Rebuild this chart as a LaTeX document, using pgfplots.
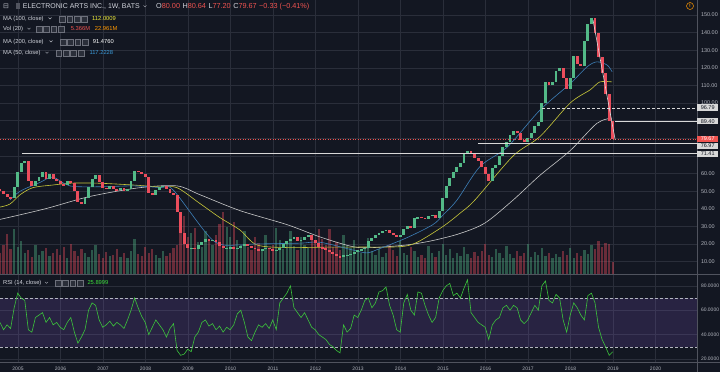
\documentclass[border=0pt]{standalone}
\usepackage{pgfplots}
\pgfplotsset{compat=1.18}
\usepackage{pgfplotstable}
\usepackage{fontspec}
\setmainfont{Liberation Sans}
\newfontfamily\djv{DejaVu Sans}
\definecolor{bgc}{HTML}{131722}
\definecolor{gridc}{HTML}{2A2E3A}
\definecolor{sepc}{HTML}{50535E}
\definecolor{tickc}{HTML}{B2B5BE}
\definecolor{hdrc}{HTML}{D1D4DC}
\definecolor{upc}{HTML}{53B987}
\definecolor{dnc}{HTML}{EB4D5C}
\definecolor{ma50c}{HTML}{3D7FB8}
\definecolor{ma100c}{HTML}{C9C83A}
\definecolor{ma200c}{HTML}{C8C8C8}
\definecolor{rsic}{HTML}{3CC43C}
\definecolor{bandc}{HTML}{7E57C2}
\definecolor{hlc}{HTML}{D8D8D8}
\definecolor{redc}{HTML}{EF5350}
\definecolor{orc}{HTML}{FF9800}
\definecolor{yelc}{HTML}{F0EC3A}
\definecolor{bluec}{HTML}{3A9AD9}
\definecolor{grnc}{HTML}{3CDC3C}
\definecolor{icof}{HTML}{2A2E39}
\definecolor{icob}{HTML}{6D707B}

% monthly candles: open, close, volume (millions), RSI(14)
\pgfplotstableread{
o c v r
51 50 22 50
50 48.6 30 44
48.6 46.7 41 48
46.7 46 26 45
46 52.5 46 62
52.5 61 28 74
61 66 34 70
66 67 22 68
67 56 25 44
56 53 18 42
53 55.5 30 54
55.5 58 20 56
58 61 24 58
61 57 27 50
57 60 19 54
60 57 22 48
57 55.5 26 50
55.5 54 20 46
54 53.5 28 44
53.5 55.5 17 50
55.5 54.5 31 54
54.5 50 24 42
50 44 19 33
44 42.5 26 38
42.5 46 22 44
46 52.5 18 60
52.5 57 25 66
57 59 30 64
59 55 21 52
55 52 17 46
52 51.5 23 48
51.5 53 19 51
53 51 20 47
51 50.5 26 50
50.5 52 18 48
52 50 22 45
50 51.5 16 52
51.5 56 24 60
56 61.5 36 70
61.5 61 21 62
61 60 19 55
60 58 28 50
58 49 22 40
49 48 26 46
48 50.5 20 52
50.5 52.5 17 48
52.5 53 24 44
53 51 19 38
51 49 22 45
49 48 27 49
48 38 30 27
38 26 45 23
26 20 60 24
20 17.5 38 28
17.5 18 42 26
18 17 47 38
17 19.5 33 42
19.5 21 28 50
21 23 44 52
23 22 36 47
22 22.5 30 49
22.5 21 40 44
21 19 52 47
19 17.5 64 42
17.5 17.8 48 46
17.8 18.2 38 44
18.2 17 54 48
17 18 35 57
18 19 30 60
19 20 44 50
20 19 28 38
19 18 25 35
18 17 38 42
17 16.5 32 48
16.5 17 24 46
17 18 40 49
18 17 27 45
17 16.5 30 52
16.5 16.8 47 44
16.8 18 35 66
18 20 26 70
20 21.5 33 74
21.5 23 44 80
23 24 29 62
24 22 25 58
22 22.5 38 54
22.5 24 30 58
24 25 27 52
25 22.5 40 46
22.5 20.5 33 44
20.5 18.5 46 40
18.5 17.5 36 38
17.5 16.5 30 36
16.5 15.5 46 32
15.5 14.5 28 30
14.5 13 33 27
13 12.5 25 25
12.5 13.5 40 48
13.5 14 30 42
14 14.3 27 45
14.3 15.5 35 56
15.5 16.5 24 54
16.5 17 22 60
17 18 28 68
18 22 37 70
22 23.5 24 62
23.5 25 20 66
25 26.5 26 75
26.5 27.5 18 76
27.5 28 22 79
28 26 30 64
26 25 25 56
25 24 19 44
24 25 34 42
25 28.5 22 66
28.5 30 20 73
30 29 28 60
29 34.5 24 56
34.5 35.5 18 75
35.5 35 20 74
35 34 16 64
34 36 29 56
36 36.5 22 50
36.5 34.5 18 54
34.5 39 24 70
39 46 31 76
46 53 20 80
53 57.5 26 82
57.5 61 17 72
61 63.5 22 74
63.5 66 19 70
66 71 28 78
71 73 21 85
73 71 16 58
71 69 23 54
69 67 19 50
67 64 24 48
64 60 31 46
60 56 20 36
56 63 18 48
63 65 26 52
65 70 22 54
70 75 17 62
75 78 29 64
78 82 21 60
82 84 16 64
84 83 24 62
83 79 19 52
79 78 22 49
78 80 31 52
80 83 18 58
83 87 23 64
87 89 20 60
89 100 27 80
100 112 19 84
112 110 22 68
110 112 17 66
112 118 21 73
118 120 18 70
120 114 24 52
114 108 20 42
108 114 27 56
114 127 16 66
127 122 22 62
122 121 19 56
121 135 25 52
135 145 21 72
145 148 30 74
148 140 26 66
140 126 34 46
126 117 28 36
117 105 32 30
105 90 31 23
90 79.67 12 25.9
}\ea

\newcommand{\icons}[2]{%
  \foreach \i in {0,1,2,3} {\draw[icob, fill=icof, line width=0.3bp] ({#1+7.4*\i},{#2-1.4}) rectangle ++(5.8,5.8);}}
\newcommand{\chev}[2]{\draw[tickc, line width=0.4bp] (#1,{#2+2.8}) -- ({#1+1.5},{#2+1.3}) -- ({#1+3},{#2+2.8});}

\begin{document}
\begin{tikzpicture}[x=1bp,y=1bp]
\fill[bgc] (0,0) rectangle (720,372);
\path[use as bounding box] (0,0) rectangle (720,372);

% ---------------- price pane ----------------
\begin{axis}[
  at={(0bp,98bp)}, anchor=south west, scale only axis,
  width=697bp, height=274bp,
  xmin=2004.576, xmax=2020.976, ymin=3, ymax=158.5,
  axis line style={draw=none}, major tick length=0pt,
  xtick={2005,2006,...,2020}, xticklabels={},
  ytick={10,20,30,40,50,60,100,110,120,130,140,150},
  extra y ticks={70,80,90}, extra y tick labels={},
  extra tick style={grid=major, major tick length=0pt},
  yticklabel pos=right,
  ymajorgrids, xmajorgrids, grid style={gridc, line width=0.5bp},
  yticklabel style={font=\fontsize{5.5}{6}\selectfont, text=tickc, anchor=west, xshift=0.5bp},
  /pgf/number format/.cd, fixed, fixed zerofill, precision=2, assume math mode=true,
]
% volume
\addplot[ycomb, line width=2.3bp, upc, opacity=0.4, forget plot]
  table[x expr={2004.576+\coordindex/12}, y expr={3+0.55*\thisrow{v}},
        restrict expr to domain={\thisrow{c}-\thisrow{o}}{0:1000}]{\ea};
\addplot[ycomb, line width=2.3bp, dnc, opacity=0.4, forget plot]
  table[x expr={2004.576+\coordindex/12}, y expr={3+0.55*\thisrow{v}},
        restrict expr to domain={\thisrow{o}-\thisrow{c}}{0.0001:1000}]{\ea};
% moving averages
\addplot[ma200c, line width=0.6bp, smooth] coordinates {
(2004.58,34) (2005.64,40) (2006.69,47) (2007.87,52) (2008.74,53) (2009.28,48)
(2010.22,39) (2011.33,31) (2012.11,24) (2012.88,18.5) (2013.35,18) (2014.15,19.5)
(2014.76,22) (2015.40,26) (2015.99,32) (2016.65,45) (2017.28,59) (2017.99,73)
(2018.62,88.5) (2018.98,91.5)};
\addplot[ma100c, line width=0.6bp, smooth] coordinates {
(2004.58,41) (2004.81,42.7) (2005.05,48) (2005.35,52) (2005.82,53.5) (2006.29,54.6)
(2006.93,54.5) (2007.71,53.5) (2008.34,52.4) (2008.74,52) (2009.28,43) (2009.75,35)
(2010.22,28) (2010.62,19.5) (2011.33,18) (2012.11,18.2) (2013.05,18.3) (2013.99,18.5)
(2014.39,21) (2015.00,30) (2015.40,37.5) (2015.75,45) (2016.65,70) (2017.28,81)
(2017.99,100) (2018.46,107.5) (2018.69,112) (2018.98,112)};
\addplot[ma50c, line width=0.6bp, smooth] coordinates {
(2004.81,45) (2005.05,50) (2005.52,55) (2005.82,58) (2006.22,53) (2006.93,52.5)
(2007.71,53) (2008.34,52) (2008.65,50.7) (2009.59,22) (2010.22,19.5) (2010.53,20)
(2011.63,20.5) (2012.11,21) (2012.88,16.6) (2013.21,15) (2013.52,17.5) (2014.15,23.6)
(2014.76,31) (2015.00,36.5) (2015.33,45) (2015.87,64) (2016.51,75) (2017.28,96)
(2017.99,111) (2018.39,120.6) (2018.62,123.4) (2018.86,121.6) (2018.98,117.7)};
% candles
\addplot[draw=none, mark=none, forget plot,
  error bars/.cd, y dir=both, y explicit, error mark=none,
  error bar style={line width=2.9bp, draw=upc, solid}]
  table[x expr={2004.576+\coordindex/12}, y expr={(\thisrow{o}+\thisrow{c})/2},
        y error expr={abs(\thisrow{c}-\thisrow{o})/2},
        restrict expr to domain={\thisrow{c}-\thisrow{o}}{0:1000}]{\ea};
\addplot[draw=none, mark=none, forget plot,
  error bars/.cd, y dir=both, y explicit, error mark=none,
  error bar style={line width=2.9bp, draw=dnc, solid}]
  table[x expr={2004.576+\coordindex/12}, y expr={(\thisrow{o}+\thisrow{c})/2},
        y error expr={abs(\thisrow{c}-\thisrow{o})/2},
        restrict expr to domain={\thisrow{o}-\thisrow{c}}{0.0001:1000}]{\ea};
% horizontal levels and trend line
\addplot[redc, line width=0.5bp, dash pattern=on 1bp off 1.5bp] coordinates {(2004.576,79.67) (2020.976,79.67)};
\addplot[hlc, line width=0.7bp] coordinates {(2005.09,71.41) (2020.976,71.41)};
\addplot[hlc, line width=0.7bp] coordinates {(2015.82,76.97) (2020.976,76.97)};
\addplot[hlc, line width=0.7bp, dash pattern=on 3bp off 2bp] coordinates {(2017.33,96.79) (2020.976,96.79)};
\addplot[hlc, line width=0.7bp] coordinates {(2019.05,89.40) (2020.976,89.40)};
\addplot[hlc, line width=0.6bp] coordinates {(2018.53,147) (2019.05,79.2)};
\coordinate (L96) at (axis cs:2020.976,96.79);
\coordinate (L89) at (axis cs:2020.976,89.40);
\coordinate (L79) at (axis cs:2020.976,79.67);
\coordinate (L76) at (axis cs:2020.976,76.97);
\coordinate (L71) at (axis cs:2020.976,71.41);
\end{axis}

% ---------------- RSI pane ----------------
\begin{axis}[
  at={(0bp,9.5bp)}, anchor=south west, scale only axis,
  width=697bp, height=87.5bp,
  xmin=2004.576, xmax=2020.976, ymin=17.1, ymax=88.9,
  axis line style={draw=none}, major tick length=0pt,
  xtick={2005,2006,...,2020},
  xticklabels={2005,2006,2007,2008,2009,2010,2011,2012,2013,2014,2015,2016,2017,2018,2019,2020},
  xticklabel style={font=\fontsize{5}{6}\selectfont, text=tickc, anchor=base, yshift=-7.5bp},
  ytick={20,40,60,80}, yticklabel pos=right,
  yticklabel style={font=\fontsize{5}{6}\selectfont, text=tickc, anchor=west, xshift=0.5bp},
  ymajorgrids, xmajorgrids, grid style={gridc, line width=0.5bp},
  /pgf/number format/.cd, fixed, fixed zerofill, precision=4, assume math mode=true,
]
\addplot[draw=none, fill=bandc, fill opacity=0.2, forget plot] coordinates {(2004.576,30) (2020.976,30) (2020.976,70) (2004.576,70)} -- cycle;
\addplot[tickc, line width=0.5bp, dash pattern=on 3bp off 2bp] coordinates {(2004.576,70) (2020.976,70)};
\addplot[tickc, line width=0.5bp, dash pattern=on 3bp off 2bp] coordinates {(2004.576,30) (2020.976,30)};
\addplot[rsic, line width=0.6bp] table[x expr={2004.576+\coordindex/12}, y=r]{\ea};
\end{axis}

% separators
\draw[sepc, line width=0.6bp] (0,98) -- (720,98);
\draw[sepc, line width=0.5bp] (0,9.5) -- (720,9.5);
\draw[sepc, line width=0.5bp] (697,0) -- (697,372);

% price level labels
\tikzset{lvl/.style={fill=hlc, text=bgc, font=\fontsize{5.5}{6}\selectfont, anchor=west, inner sep=0pt, minimum width=21bp, minimum height=6.5bp}}
\node[lvl] at ([yshift=1bp]L96) {96.79};
\node[lvl] at ([yshift=0.6bp]L89) {89.40};
\node[lvl, fill=redc, text=white] at (L79) {79.67};
\node[lvl] at ([yshift=-2.2bp]L76) {76.97};
\node[lvl] at ([yshift=-0.5bp]L71) {71.41};

% header
\node[anchor=base west, inner sep=0, text=tickc, font=\fontsize{7}{8}\selectfont] at (3,363.8) {{\djv ⊟}};
\fill[sepc] (15.5,363.3) rectangle (19.5,369.3);
\node[anchor=base west, inner sep=0, text=hdrc, font=\fontsize{7}{8}\selectfont] at (22.7,363.8) {ELECTRONIC ARTS INC., 1W, BATS};
\chev{143.5}{363.8}
\node[anchor=base west, inner sep=0, text=hdrc, font=\fontsize{7.3}{8}\selectfont] at (156,363.8)
  {O\textcolor{redc}{80.00}\hspace{2.5bp}H\textcolor{redc}{80.64}\hspace{2.5bp}L\textcolor{redc}{77.20}\hspace{2.5bp}C\textcolor{redc}{79.67}\hspace{2.5bp}\textcolor{redc}{−0.33 (−0.41\%)}};

\tikzset{hd/.style={anchor=base west, inner sep=0, text=hdrc, font=\fontsize{5.8}{7}\selectfont}}
\node[hd] at (3,351.7) {MA (100, close)}; \chev{48.5}{351.7} \icons{59.3}{351.7}
\node[hd, text=yelc] at (92,351.7) {112.0009};
\node[hd] at (3,341.3) {Vol (20)}; \chev{27.5}{341.3} \icons{36}{341.3}
\node[hd, text=redc] at (70.7,341.3) {5.366M};
\node[hd, text=orc] at (94.7,341.3) {22.961M};
\node[hd] at (3,328.7) {MA (200, close)}; \chev{49.5}{328.7} \icons{60}{328.7}
\node[hd, text=white] at (92.7,328.7) {91.4760};
\node[hd] at (3,317.3) {MA (50, close)}; \chev{45.5}{317.3} \icons{55.7}{317.3}
\node[hd, text=bluec] at (89.3,317.3) {117.2228};
\node[hd] at (3,87.3) {RSI (14, close)}; \chev{45}{87.3} \icons{55}{87.3}
\node[hd, text=grnc] at (87.3,87.3) {25.8999};

\node[draw=orc, circle, line width=0.5bp, inner sep=0pt, minimum size=7bp, text=orc, font=\fontsize{5}{5}\selectfont\bfseries] at (690,366) {!};
\end{tikzpicture}
\end{document}
